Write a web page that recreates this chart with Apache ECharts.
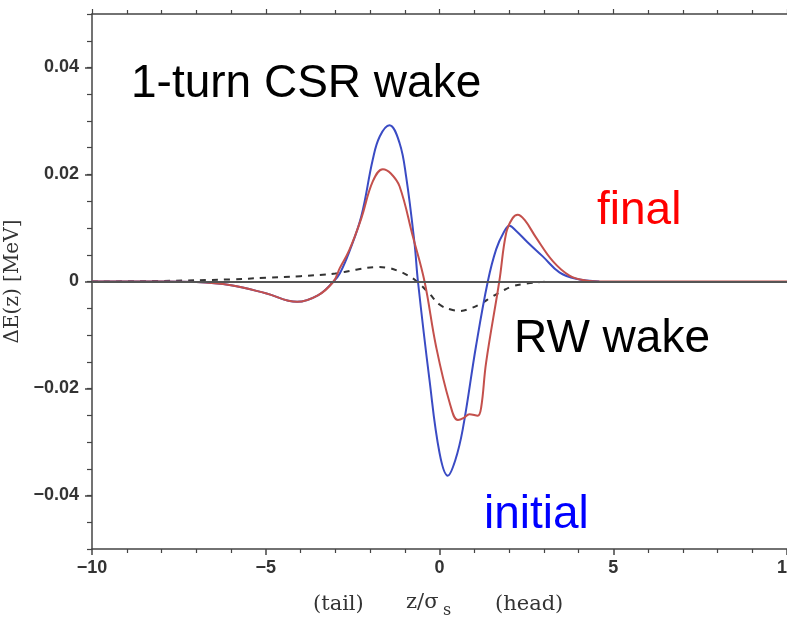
<!DOCTYPE html>
<html>
<head>
<meta charset="utf-8">
<script src="https://cdn.jsdelivr.net/npm/echarts@6/dist/echarts.min.js"></script>
<style>
  html, body { margin: 0; padding: 0; background: #fff; }
  #chart { width: 787px; height: 624px; }
</style>
</head>
<body>
<div id="chart"></div>
<script>
// z / sigma_s positions and energy change (MeV)
const initialZ = [-10, -8, -7, -6, -5, -4.1, -3.5, -3.05, -2.87, -2.6, -2.25, -1.92, -1.72, -1.44, -1.15, -0.96, -0.72, -0.62, -0.29, 0, 0.24, 0.45, 0.67, 1.05, 1.39, 1.63, 1.85, 2.01, 2.2, 2.54, 2.97, 3.45, 3.93, 4.6];
const initialE = [0, 0, -0.0001, -0.0007, -0.0022, -0.0038, -0.0026, 0, 0.0015, 0.0055, 0.0122, 0.0228, 0.0271, 0.0292, 0.0259, 0.0196, 0.0072, 0, -0.0183, -0.032, -0.0363, -0.0335, -0.0276, -0.0121, 0, 0.006, 0.0092, 0.0104, 0.0095, 0.0073, 0.0047, 0.0017, 0.0005, 0];

const finalZ = [-10, -8, -7, -6, -5, -4.1, -3.5, -3.05, -2.87, -2.6, -2.25, -1.92, -1.63, -1.4, -1.15, -0.77, -0.43, -0.1, 0.29, 0.53, 0.7, 0.86, 1.1, 1.2, 1.34, 1.72, 1.92, 2.1, 2.25, 2.45, 2.78, 3.26, 3.74, 4.2, 4.7, 6, 10];
const finalE = [0, 0, -0.0001, -0.0007, -0.0022, -0.0038, -0.0026, 0, 0.0025, 0.0058, 0.0118, 0.0187, 0.021, 0.0202, 0.0178, 0.0085, 0, -0.0121, -0.0226, -0.0259, -0.0255, -0.0248, -0.0251, -0.0235, -0.0152, 0, 0.0091, 0.0118, 0.0125, 0.0115, 0.0082, 0.0038, 0.0011, 0.0002, 0, 0, 0];

const rwZ = [-10, -8, -6, -5, -4, -3, -2.4, -1.8, -1.53, -1.2, -0.9, -0.65, -0.3, 0, 0.3, 0.6, 0.9, 1.2, 1.5, 1.8, 2.1, 2.5, 2.9, 3.2];
const rwE = [0, 0.0001, 0.0004, 0.0007, 0.001, 0.0015, 0.0022, 0.0027, 0.0026, 0.002, 0.0011, 0, -0.0022, -0.0043, -0.0052, -0.0055, -0.005, -0.0041, -0.0029, -0.0018, -0.0009, -0.0004, -0.0001, 0];

const yTicks = [-0.04, -0.02, 0, 0.02, 0.04];

const zip = (xs, ys) => xs.map((x, i) => [x, ys[i]]);
const minus = v => String(v).replace('-', '\u2212');

const chart = echarts.init(document.getElementById('chart'), null, { renderer: 'canvas' });

const axisColor = '#444';
const labelStyle = { color: '#333', fontSize: 18, fontWeight: 'bold', fontFamily: 'Liberation Sans, Arial, sans-serif' };
const bigFont = '46px Liberation Sans, Arial, sans-serif';
const serifFont = '21px DejaVu Serif, serif';

const option = {
  backgroundColor: '#fff',
  animation: false,
  grid: { left: 92, right: 0, top: 14, bottom: 75, containLabel: false, outerBoundsMode: 'none' },
  xAxis: [
    {
      type: 'value', min: -10, max: 10, interval: 5, position: 'bottom',
      axisLine: { show: true, onZero: false, lineStyle: { color: axisColor, width: 1.5 } },
      axisTick: { show: true, length: 6, lineStyle: { color: axisColor, width: 1.5 } },
      minorTick: { show: true, splitNumber: 5, length: 4, lineStyle: { color: axisColor, width: 1.2 } },
      splitLine: { show: false },
      axisLabel: Object.assign({ margin: 10, formatter: v => minus(v) }, labelStyle)
    },
    {
      type: 'value', min: -10, max: 10, interval: 5, position: 'top',
      axisLine: { show: true, onZero: false, lineStyle: { color: axisColor, width: 1.5 } },
      axisTick: { show: true, length: 5, lineStyle: { color: axisColor, width: 1.2 } },
      minorTick: { show: true, splitNumber: 5, length: 4, lineStyle: { color: axisColor, width: 1.2 } },
      splitLine: { show: false },
      axisLabel: { show: false }
    }
  ],
  yAxis: [
    {
      type: 'value', min: -0.05, max: 0.05, interval: 0.01, position: 'left',
      name: 'ΔE(z) [MeV]', nameLocation: 'middle', nameRotate: 90, nameGap: 67,
      nameTextStyle: { fontFamily: 'DejaVu Serif, serif', fontSize: 20, color: '#333' },
      axisLine: { show: true, onZero: false, lineStyle: { color: axisColor, width: 1.5 } },
      axisTick: { show: true, length: 7, customValues: yTicks, lineStyle: { color: axisColor, width: 1.5 } },
      splitLine: { show: false },
      axisLabel: Object.assign({ margin: 13, customValues: yTicks, formatter: v => minus(+v.toFixed(2)) }, labelStyle)
    },
    {
      // minor ticks every 0.005
      type: 'value', min: -0.05, max: 0.05, interval: 0.005, position: 'left',
      axisLine: { show: false, onZero: false },
      axisTick: { show: true, length: 5, lineStyle: { color: axisColor, width: 1.2 } },
      splitLine: { show: false },
      axisLabel: { show: false }
    }
  ],
  series: [
    {
      name: 'RW wake', type: 'line', data: zip(rwZ, rwE), smooth: 0.4, showSymbol: false,
      lineStyle: { color: '#333', width: 2, type: [6, 6] },
      markLine: {
        silent: true, symbol: 'none', label: { show: false },
        lineStyle: { color: '#555', width: 2, type: 'solid' },
        data: [{ yAxis: 0 }]
      }
    },
    {
      name: 'initial', type: 'line', data: zip(initialZ, initialE), smooth: 0.4, showSymbol: false,
      lineStyle: { color: '#3a4bc4', width: 2 }
    },
    {
      name: 'final', type: 'line', data: zip(finalZ, finalE), smooth: 0.4, showSymbol: false,
      lineStyle: { color: '#c4504c', width: 2 }
    }
  ],
  graphic: [
    { type: 'text', style: { text: '1-turn CSR wake', x: 131, y: 84, verticalAlign: 'middle', font: bigFont, fill: '#000' } },
    { type: 'text', style: { text: 'final', x: 597, y: 211, verticalAlign: 'middle', font: bigFont, fill: '#ff0000' } },
    { type: 'text', style: { text: 'RW wake', x: 514, y: 339, verticalAlign: 'middle', font: bigFont, fill: '#000' } },
    { type: 'text', style: { text: 'initial', x: 484, y: 515, verticalAlign: 'middle', font: bigFont, fill: '#0000ff' } },
    // x axis caption
    { type: 'text', style: { text: '(tail)', x: 313, y: 605, verticalAlign: 'middle', font: serifFont, fill: '#333' } },
    { type: 'text', style: { text: 'z/σ', x: 406, y: 603, verticalAlign: 'middle', font: serifFont, fill: '#333' } },
    { type: 'text', style: { text: 's', x: 443, y: 611, verticalAlign: 'middle', font: '16px DejaVu Serif, serif', fill: '#333' } },
    { type: 'text', style: { text: '(head)', x: 495, y: 605, verticalAlign: 'middle', font: serifFont, fill: '#333' } }
  ]
};

chart.setOption(option);
</script>
</body>
</html>
